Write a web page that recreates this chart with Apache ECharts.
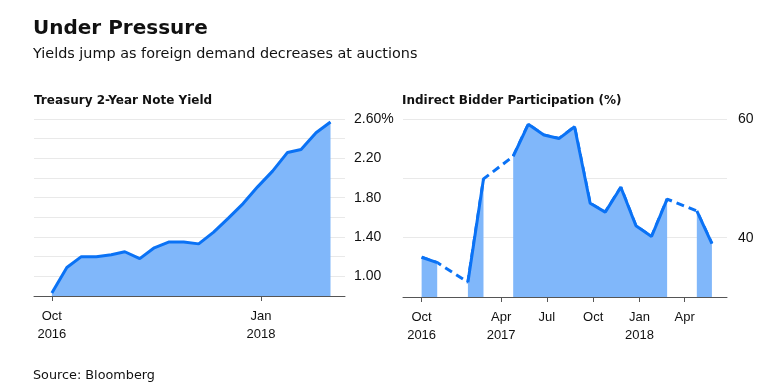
<!DOCTYPE html>
<html>
<head>
<meta charset="utf-8">
<script src="https://cdn.jsdelivr.net/npm/echarts@6.0.0/dist/echarts.min.js"></script>
<style>
  html, body { margin: 0; padding: 0; background: #fff; }
  #chart { width: 781px; height: 387px; }
</style>
</head>
<body>
<div id="chart"></div>
<script>
// ---- data ----
const dates = [
  '2016-10-25','2016-11-25','2016-12-25','2017-01-25','2017-02-25','2017-03-25',
  '2017-04-25','2017-05-25','2017-06-25','2017-07-25','2017-08-25','2017-09-25',
  '2017-10-25','2017-11-25','2017-12-25','2018-01-25','2018-02-25','2018-03-25',
  '2018-04-25','2018-05-25'
];
const yieldValues = [0.83,1.09,1.20,1.20,1.22,1.25,1.18,1.29,1.35,1.35,1.33,1.45,1.59,1.74,1.91,2.07,2.26,2.29,2.46,2.57];
const participation = [36.7,35.8,null,32.5,49.9,null,53.7,59.1,57.3,56.7,58.7,45.8,44.3,48.5,42.0,40.2,46.5,null,44.5,39.0];

const yieldTicks = [1.0, 1.4, 1.8, 2.2, 2.6];
const partTicks = [40, 60];

const leftXTicks = ['2016-10-25', '2018-01-01'];
const leftXLabels = ['Oct\n2016', 'Jan\n2018'];
const rightXTicks = ['2016-10-25','2017-04-01','2017-07-01','2017-10-01','2018-01-01','2018-04-01'];
const rightXLabels = ['Oct\n2016','Apr\n2017','Jul','Oct','Jan\n2018','Apr'];

const axisMin = '2016-09-18';
const axisMax = '2018-06-24';

// ---- build ----
const LINE = '#0a72f5';
const AREA = '#80b7fa';
const TXT = '#111';

function ts(d) { return new Date(d + 'T00:00:00Z').getTime(); }

function xAxis(gridIndex, ticks, labels) {
  const tv = ticks.map(ts);
  const m = {};
  tv.forEach((t, i) => { m[t] = labels[i]; });
  return {
    type: 'value',
    gridIndex: gridIndex,
    min: ts(axisMin),
    max: ts(axisMax),
    axisLine: { show: true, lineStyle: { color: '#555', width: 1 } },
    axisTick: { show: true, length: 5, lineStyle: { color: '#555' }, customValues: tv },
    axisLabel: {
      customValues: tv,
      formatter: v => (m[v] !== undefined ? m[v] : ''),
      color: TXT, fontSize: 13, fontFamily: 'Liberation Sans', lineHeight: 17.5, margin: 12,
      align: 'center', hideOverlap: false, showMinLabel: true, showMaxLabel: true
    },
    splitLine: { show: false }
  };
}

const yieldSeries = dates.map((d, i) => [ts(d), yieldValues[i]]);
const partSeries = dates.map((d, i) => [ts(d), participation[i] === null ? '-' : participation[i]]);

const option = {
  animation: false,
  backgroundColor: '#fff',
  title: [
    { text: 'Under Pressure', left: 28, top: 14,
      textStyle: { fontFamily: 'DejaVu Sans', fontWeight: 'bold', fontSize: 20, color: TXT } },
    { text: 'Yields jump as foreign demand decreases at auctions', left: 28, top: 42,
      textStyle: { fontFamily: 'DejaVu Sans', fontWeight: 'normal', fontSize: 14.4, color: TXT } },
    { text: 'Treasury 2-Year Note Yield', left: 29, top: 90,
      textStyle: { fontFamily: 'DejaVu Sans', fontWeight: 'bold', fontSize: 12, color: TXT } },
    { text: 'Indirect Bidder Participation (%)', left: 397, top: 90,
      textStyle: { fontFamily: 'DejaVu Sans', fontWeight: 'bold', fontSize: 12, color: TXT } },
    { text: 'Source: Bloomberg', left: 28, top: 364,
      textStyle: { fontFamily: 'DejaVu Sans', fontWeight: 'normal', fontSize: 12.8, color: TXT } }
  ],
  grid: [
    { left: 34, right: 436, top: 119, bottom: 91 },
    { left: 403, right: 54, top: 119, bottom: 90 }
  ],
  xAxis: [
    xAxis(0, leftXTicks, leftXLabels),
    xAxis(1, rightXTicks, rightXLabels)
  ],
  yAxis: [
    {
      type: 'value', gridIndex: 0, position: 'right', min: 0.8, max: 2.6, interval: 0.2,
      axisLine: { show: false }, axisTick: { show: false },
      axisLabel: {
        customValues: yieldTicks,
        formatter: v => Math.abs(v - 2.6) < 1e-6 ? '2.60%' : v.toFixed(2),
        color: TXT, fontSize: 14, fontFamily: 'Liberation Sans', margin: 9, align: 'left'
      },
      splitLine: { show: true, lineStyle: { color: '#e9e9e9', width: 1 } }
    },
    {
      type: 'value', gridIndex: 1, position: 'right', min: 30, max: 60, interval: 10,
      axisLine: { show: false }, axisTick: { show: false },
      axisLabel: {
        customValues: partTicks,
        formatter: v => String(v),
        color: TXT, fontSize: 14, fontFamily: 'Liberation Sans', margin: 11, align: 'left'
      },
      splitLine: { show: true, lineStyle: { color: '#e9e9e9', width: 1 } }
    }
  ],
  series: [
    {
      type: 'line', xAxisIndex: 0, yAxisIndex: 0, data: yieldSeries,
      showSymbol: false, symbol: 'none',
      lineStyle: { color: LINE, width: 3 },
      areaStyle: { color: AREA, opacity: 1, origin: 'start' },
      z: 3
    },
    {
      type: 'line', xAxisIndex: 1, yAxisIndex: 1, data: partSeries,
      showSymbol: false, symbol: 'none', connectNulls: true,
      lineStyle: { color: LINE, width: 3, type: [8, 5] },
      z: 2
    },
    {
      type: 'line', xAxisIndex: 1, yAxisIndex: 1, data: partSeries,
      showSymbol: false, symbol: 'none', connectNulls: false,
      lineStyle: { color: LINE, width: 3 },
      areaStyle: { color: AREA, opacity: 1, origin: 'start' },
      z: 3
    }
  ]
};

const chart = echarts.init(document.getElementById('chart'), null, { renderer: 'canvas' });
chart.setOption(option);
</script>
</body>
</html>
